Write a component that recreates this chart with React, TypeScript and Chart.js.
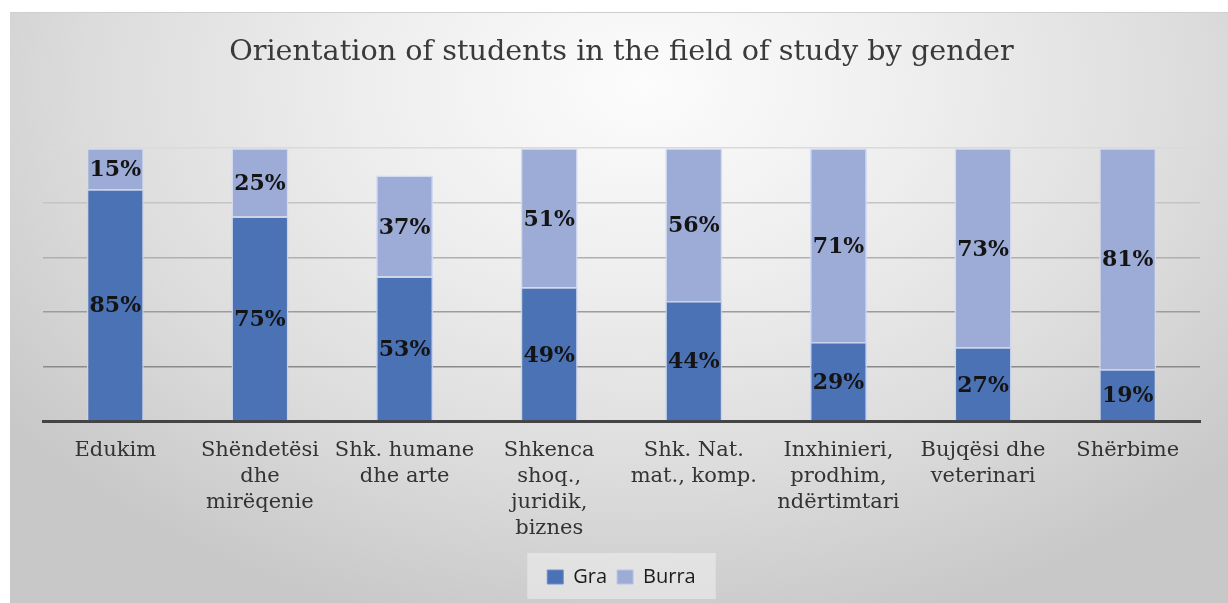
import React, { useEffect, useRef } from "react";
import { Chart, registerables } from "chart.js";

Chart.register(...registerables);

const categories: string[][] = [
  ["Edukim"],
  ["Shëndetësi", "dhe", "mirëqenie"],
  ["Shk. humane", "dhe arte"],
  ["Shkenca", "shoq.,", "juridik,", "biznes"],
  ["Shk. Nat.", "mat., komp."],
  ["Inxhinieri,", "prodhim,", "ndërtimtari"],
  ["Bujqësi dhe", "veterinari"],
  ["Shërbime"],
];
const graValues = [85, 75, 53, 49, 44, 29, 27, 19];
const burraValues = [15, 25, 37, 51, 56, 71, 73, 81];
const seriesNames = ["Gra", "Burra"];
const yTicks = [0, 20, 40, 60, 80, 100];
const titleText = "Orientation of students in the field of study by gender";

const GRA_COLOR = "#4a72b4";
const BURRA_COLOR = "#9dacd6";

const gridColors: Record<number, string> = {
  0: "#808080",
  20: "#8a8a8a",
  40: "#9c9c9c",
  60: "#b0b0b0",
  80: "#c4c4c4",
  100: "#dadada",
};

const dataLabelPlugin = {
  id: "segLabels",
  afterDatasetsDraw(chart: any) {
    const ctx = chart.ctx;
    ctx.save();
    ctx.font = "bold 22px 'DejaVu Serif'";
    ctx.fillStyle = "#141414";
    ctx.textAlign = "center";
    ctx.textBaseline = "middle";
    chart.data.datasets.forEach((ds: any, i: number) => {
      const meta = chart.getDatasetMeta(i);
      meta.data.forEach((el: any, j: number) => {
        const v = ds.data[j];
        const y = (el.y + el.base) / 2;
        ctx.fillText(v + "%", el.x, y + 2);
      });
    });
    ctx.restore();
  },
};

const legendBgPlugin = {
  id: "legendBg",
  beforeDraw(chart: any) {
    const lg = chart.legend;
    if (!lg || !lg.legendHitBoxes || !lg.legendHitBoxes.length) return;
    const boxes = lg.legendHitBoxes;
    let l = Infinity, r = -Infinity, t = Infinity, b = -Infinity;
    boxes.forEach((h: any) => {
      l = Math.min(l, h.left);
      r = Math.max(r, h.left + h.width);
      t = Math.min(t, h.top);
      b = Math.max(b, h.top + h.height);
    });
    const ctx = chart.ctx;
    ctx.save();
    ctx.fillStyle = "rgba(240,240,240,0.55)";
    ctx.fillRect(l - 20, t - 14, r - l + 40, b - t + 26);
    ctx.restore();
  },
};

export default function App() {
  const ref = useRef<HTMLCanvasElement | null>(null);

  useEffect(() => {
    if (!ref.current) return;
    const chart = new Chart(ref.current, {
      type: "bar",
      data: {
        labels: categories,
        datasets: [
          {
            label: seriesNames[0],
            data: graValues,
            backgroundColor: GRA_COLOR,
            borderColor: "#c9d2ee",
            borderWidth: 1.5,
            borderSkipped: "start",
          },
          {
            label: seriesNames[1],
            data: burraValues,
            backgroundColor: BURRA_COLOR,
            borderColor: "#d4dbf1",
            borderWidth: 1.5,
            borderSkipped: "start",
          },
        ],
      },
      options: {
        responsive: false,
        animation: false,
        layout: { padding: { left: 43, right: 28, top: 12, bottom: 6 } },
        datasets: {
          bar: { categoryPercentage: 1, barPercentage: 0.394 },
        },
        scales: {
          x: {
            stacked: true,
            grid: { display: false, drawTicks: false },
            border: { display: true, color: "#444444", width: 3 },
            ticks: {
              padding: 16,
              color: "#333333",
              font: { family: "'DejaVu Serif'", size: 21, lineHeight: 1.25 },
              maxRotation: 0,
              autoSkip: false,
            },
            afterFit: (scale: any) => {
              scale.height -= 1;
            },
          },
          y: {
            stacked: true,
            min: 0,
            max: 100,
            afterBuildTicks: (scale: any) => {
              scale.ticks = yTicks.map((v) => ({ value: v }));
            },
            ticks: { display: false },
            border: { display: false },
            grid: {
              drawTicks: false,
              lineWidth: 1.5,
              color: (c: any) => gridColors[c.tick ? c.tick.value : 0] || "#aaaaaa",
            },
          },
        },
        plugins: {
          title: {
            display: true,
            text: titleText,
            color: "#3a3a3a",
            font: { family: "'DejaVu Serif'", size: 28.7, weight: "normal", lineHeight: 1.2 },
            padding: { top: 23, bottom: 78.8 },
          },
          legend: {
            position: "bottom",
            labels: {
              boxWidth: 16,
              boxHeight: 14,
              padding: 10,
              color: "#1c1c1c",
              font: { family: "'Open Sans'", size: 20 },
              generateLabels: (ch: any) =>
                ch.data.datasets.map((ds: any, i: number) => ({
                  text: ds.label,
                  fillStyle: ds.backgroundColor,
                  strokeStyle: i === 0 ? "#6f8fcb" : "#b9c4e4",
                  lineWidth: 1,
                  fontColor: "#1c1c1c",
                  datasetIndex: i,
                  hidden: false,
                })),
            },
          },
          tooltip: { enabled: false },
        },
      },
      plugins: [dataLabelPlugin, legendBgPlugin],
    });
    return () => chart.destroy();
  }, []);

  return (
    <div style={{ position: "absolute", left: 0, top: 0, width: 1228, height: 603, background: "#ffffff", overflow: "hidden" }}>
      <div
        style={{
          position: "absolute",
          left: 10,
          top: 12,
          width: 1218,
          height: 591,
          borderTop: "1px solid #cfcfcf",
          background:
            "radial-gradient(ellipse 65% 95% at 52% 12%, #fcfcfc 0%, #eeeeee 35%, #dcdcdc 70%, #c8c8c8 100%)",
        }}
      />
      <canvas ref={ref} width={1228} height={603} style={{ position: "absolute", left: 0, top: 0, width: 1228, height: 603 }} />
    </div>
  );
}
